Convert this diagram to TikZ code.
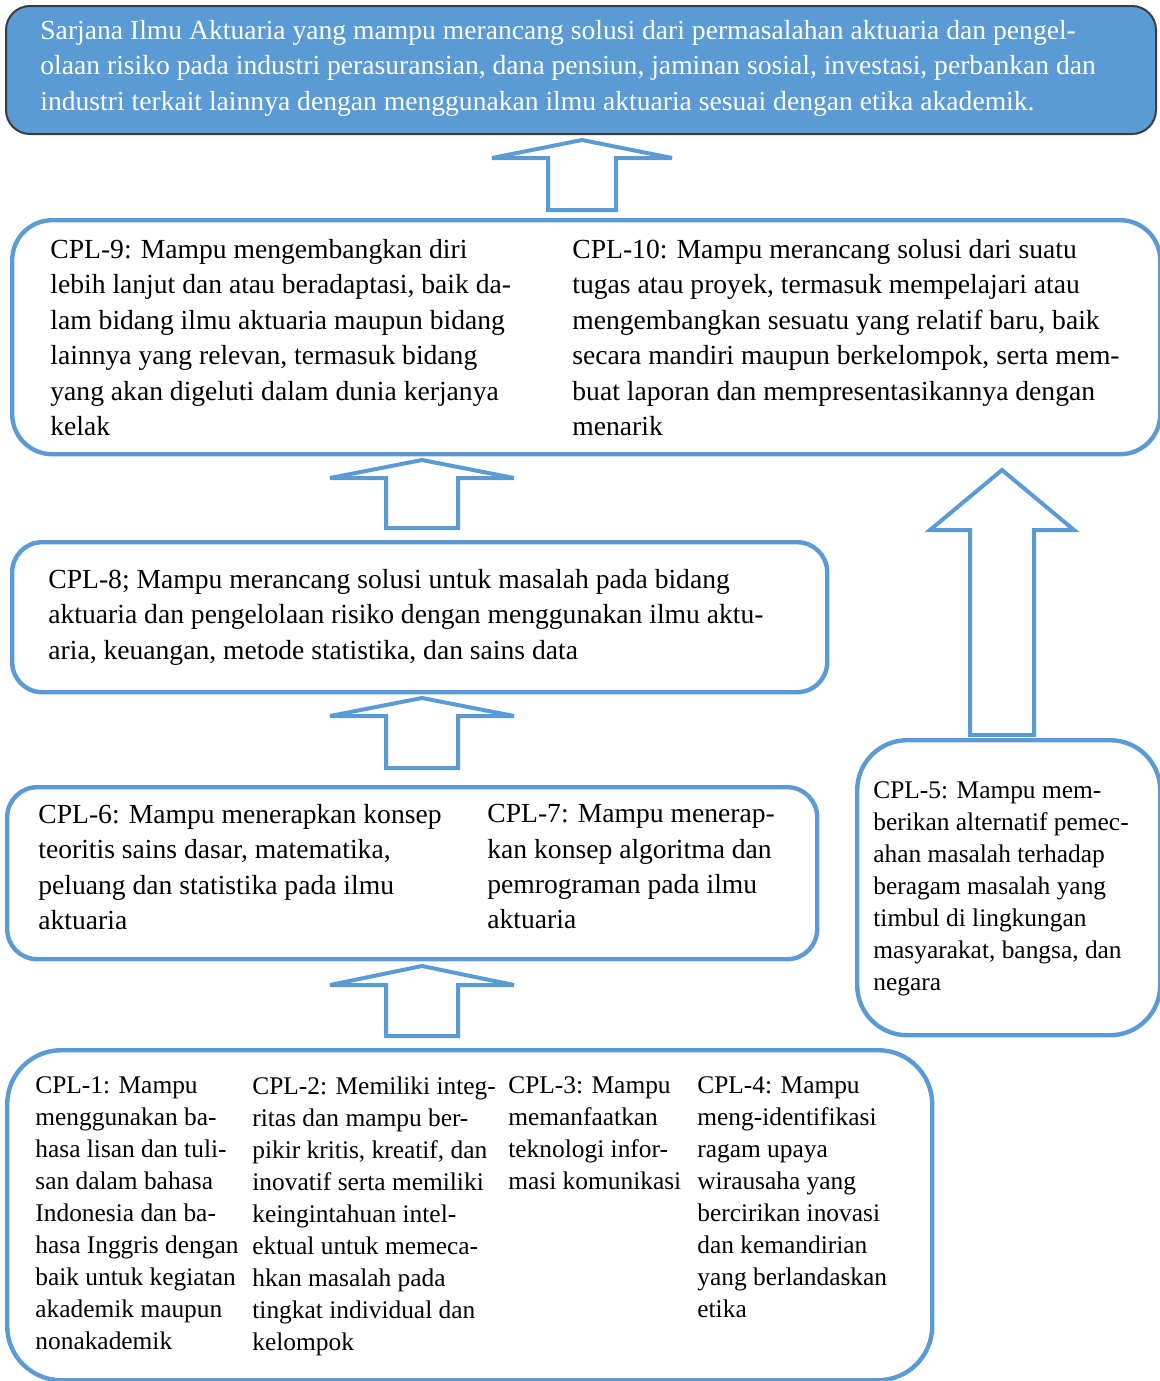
\documentclass[tikz,border=0pt]{standalone}
\usepackage{fontspec}
\setmainfont{Liberation Serif}
\usetikzlibrary{calc, positioning}
\definecolor{cplblue}{RGB}{91,155,213}
\definecolor{cpldark}{RGB}{60,60,60}

% up-pointing block arrow: base, half shaft, shaft length, wing, head height
\newcommand{\uparrowshape}[5]{%
  \draw[blockarrow] #1 ++(-#2,0) -- ++(0,-#3) -- ++(-#4,0) -- ++(#2+#4,-#5)
    -- ++(#2+#4,#5) -- ++(-#4,0) -- ++(0,#3) -- cycle;}

\begin{document}
\begin{tikzpicture}[x=0.5pt,y=-0.5pt,
    cplbox/.style={draw=cplblue,line width=2.2pt,fill=white,anchor=north west,inner sep=0pt},
    goalbox/.style={draw=cpldark,line width=1pt,fill=cplblue,anchor=north west,inner sep=0pt},
    bigtext/.style={anchor=north west,align=left,inner sep=0pt,font=\fontsize{13.8pt}{17.7pt}\selectfont},
    smalltext/.style={anchor=north west,align=left,inner sep=0pt,font=\fontsize{12.7pt}{16pt}\selectfont},
    blockarrow/.style={draw=cplblue,line width=2pt,fill=white,line join=miter,miter limit=3}]
\useasboundingbox (0,0) rectangle (1160,1381);

% goal
\node[goalbox,rounded corners=12pt,minimum width=575pt,minimum height=64pt] (goal) at (5,5) {};
\node[bigtext,text=white] (goaltext) at (40,20)
  {Sarjana Ilmu Aktuaria yang mampu merancang solusi dari permasalahan aktuaria dan pengel-\\
   olaan risiko pada industri perasuransian, dana pensiun, jaminan sosial, investasi, perbankan dan\\
   industri terkait lainnya dengan menggunakan ilmu aktuaria sesuai dengan etika akademik.};

% CPL-9 and CPL-10
\node[cplbox,rounded corners=20pt,minimum width=574pt,minimum height=117pt] (row910) at (10,218) {};
\node[bigtext] (cpl9) at (50,239)
  {CPL-9: Mampu mengembangkan diri\\
   lebih lanjut dan atau beradaptasi, baik da-\\
   lam bidang ilmu aktuaria maupun bidang\\
   lainnya yang relevan, termasuk bidang\\
   yang akan digeluti dalam dunia kerjanya\\
   kelak};
\node[bigtext] (cpl10) at (572,239)
  {CPL-10: Mampu merancang solusi dari suatu\\
   tugas atau proyek, termasuk mempelajari atau\\
   mengembangkan sesuatu yang relatif baru, baik\\
   secara mandiri maupun berkelompok, serta mem-\\
   buat laporan dan mempresentasikannya dengan\\
   menarik};

% CPL-8
\node[cplbox,rounded corners=15pt,minimum width=407.5pt,minimum height=75pt] (row8) at (10,540) {};
\node[bigtext] (cpl8) at (48,569)
  {CPL-8; Mampu merancang solusi untuk masalah pada bidang\\
   aktuaria dan pengelolaan risiko dengan menggunakan ilmu aktu-\\
   aria, keuangan, metode statistika, dan sains data};

% CPL-6 and CPL-7
\node[cplbox,rounded corners=15pt,minimum width=405pt,minimum height=86pt] (row67) at (5,785) {};
\node[bigtext] (cpl6) at (38,804)
  {CPL-6: Mampu menerapkan konsep\\
   teoritis sains dasar, matematika,\\
   peluang dan statistika pada ilmu\\
   aktuaria};
\node[bigtext] (cpl7) at (487,804)
  {CPL-7: Mampu menerap-\\
   kan konsep algoritma dan\\
   pemrograman pada ilmu\\
   aktuaria};

% CPL-5
\node[cplbox,rounded corners=25pt,minimum width=151.5pt,minimum height=147.5pt] (row5) at (855,738) {};
\node[smalltext] (cpl5) at (873,781)
  {CPL-5: Mampu mem-\\
   berikan alternatif pemec-\\
   ahan masalah terhadap\\
   beragam masalah yang\\
   timbul di lingkungan\\
   masyarakat, bangsa, dan\\
   negara};

% CPL-1 .. CPL-4
\node[cplbox,rounded corners=27pt,minimum width=462.5pt,minimum height=165pt] (row14) at (5,1048) {};
\node[smalltext] (cpl1) at (35,1076)
  {CPL-1: Mampu\\
   menggunakan ba-\\
   hasa lisan dan tuli-\\
   san dalam bahasa\\
   Indonesia dan ba-\\
   hasa Inggris dengan\\
   baik untuk kegiatan\\
   akademik maupun\\
   nonakademik};
\node[smalltext] (cpl2) at (252,1076)
  {CPL-2: Memiliki integ-\\
   ritas dan mampu ber-\\
   pikir kritis, kreatif, dan\\
   inovatif serta memiliki\\
   keingintahuan intel-\\
   ektual untuk memeca-\\
   hkan masalah pada\\
   tingkat individual dan\\
   kelompok};
\node[smalltext] (cpl3) at (508,1076)
  {CPL-3: Mampu\\
   memanfaatkan\\
   teknologi infor-\\
   masi komunikasi};
\node[smalltext] (cpl4) at (697,1076)
  {CPL-4: Mampu\\
   meng-identifikasi\\
   ragam upaya\\
   wirausaha yang\\
   bercirikan inovasi\\
   dan kemandirian\\
   yang berlandaskan\\
   etika};

% arrows
\uparrowshape{(582,210)}{34}{52}{56}{18}
\uparrowshape{(422,528)}{36}{50}{56}{18}
\uparrowshape{(422,768)}{36}{52}{56}{18}
\uparrowshape{(422,1036)}{36}{51}{56}{19}
\uparrowshape{(1002,735)}{32}{205}{40}{60}
\end{tikzpicture}
\end{document}
